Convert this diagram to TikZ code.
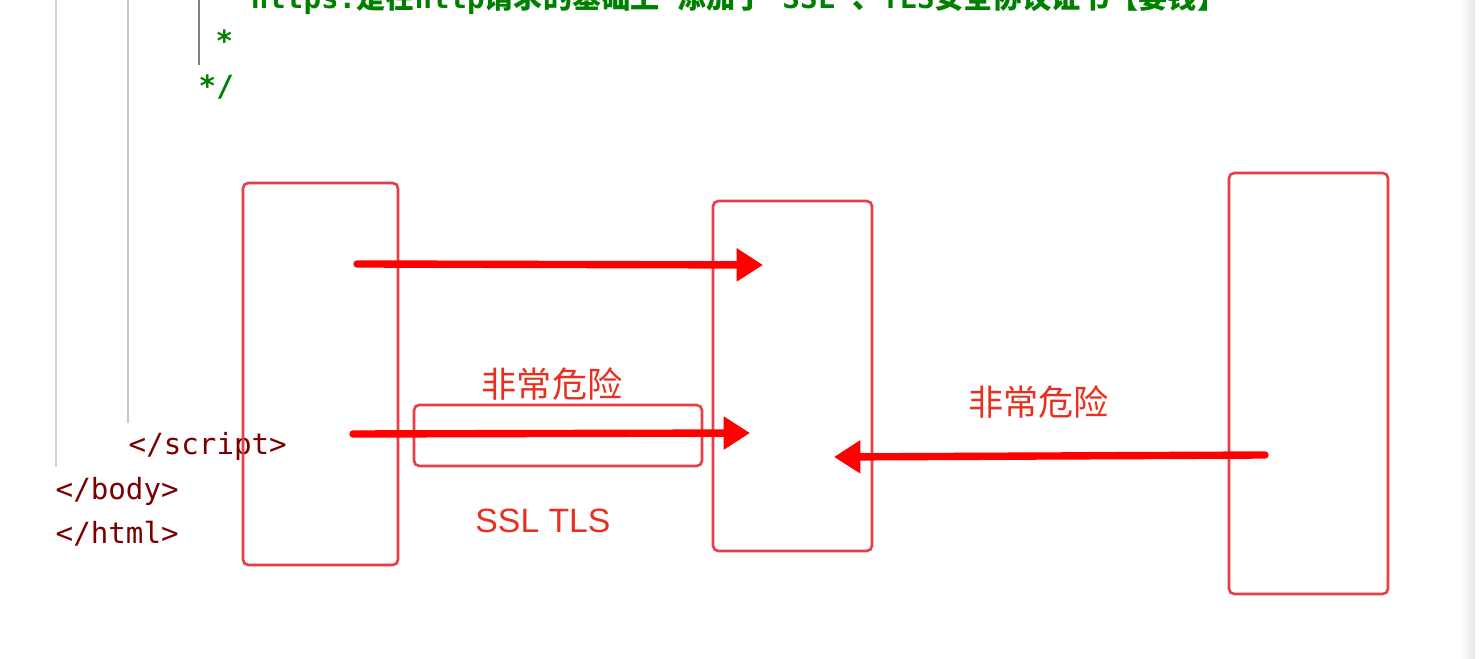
\documentclass[tikz,border=0pt]{standalone}
\usepackage{fontspec}
\usepackage{xcolor}
\usepackage{tikz}
\usetikzlibrary{arrows.meta}
\setmainfont{Liberation Sans}
\newfontfamily\cjk{Noto Sans CJK SC}
\newfontfamily\codefont{DejaVu Sans Mono}
\definecolor{boxred}{RGB}{232,62,72}
\definecolor{textred}{RGB}{232,48,32}
\definecolor{tagred}{RGB}{122,0,0}
\definecolor{cmtgreen}{RGB}{0,128,0}

\begin{document}
\begin{tikzpicture}[redbox/.style={draw=boxred, line width=0.75pt, rounded corners=1.5pt, inner sep=0, minimum width=#1},
  bigarrow/.style={-{Triangle[length=7.5pt, width=9pt]}, red, line width=2.1pt, line cap=round},
  redtext/.style={text=textred, inner sep=0, font=\cjk\fontsize{10}{12}\selectfont},
  codeline/.style={anchor=base west, inner sep=0, font=\codefont\fontsize{8.3}{10}\selectfont},
  comment/.style={codeline, text=cmtgreen, font=\codefont\bfseries\fontsize{8.3}{10}\selectfont}]
\useasboundingbox (0,0) rectangle (14.84,-6.59);
\fill[white] (0,0) rectangle (14.84,-6.59);
%editor guides
\draw[black!18, line width=0.6pt] (0.56,0) -- (0.56,-4.67);
\draw[black!22, line width=0.6pt] (1.28,0) -- (1.28,-4.23);
\draw[black!50, line width=0.6pt] (1.99,0) -- (1.99,-0.65);
\shade[left color=white, right color=black!10] (14.60,0) rectangle (14.75,-6.59);
%code text
\node[comment] (c1) at (2.15,-0.09) {* https:{\cjk 是在}http{\cjk 请求的基础上} {\cjk 添加了} SSL {\cjk 、}TLS{\cjk 安全协议证书【要钱】}};
\node[comment] (c2) at (2.15,-0.52) {*};
\node[comment] (c3) at (1.98,-0.97) {*/};
\node[codeline, text=tagred] (c4) at (1.28,-4.55) {</script>};
\node[codeline, text=tagred] (c5) at (0.55,-5.00) {</body>};
\node[codeline, text=tagred] (c6) at (0.55,-5.44) {</html>};
%boxes
\node[redbox=1.55cm, minimum height=3.82cm] (client) at (3.205,-3.74) {};
\node[redbox=1.59cm, minimum height=3.50cm] (server) at (7.925,-3.76) {};
\node[redbox=1.59cm, minimum height=4.21cm] (thief) at (13.085,-3.835) {};
\node[redbox=2.88cm, minimum height=0.61cm] (ssl) at (5.58,-4.355) {};
%arrows
\coordinate (a1) at (3.57,-2.64);
\coordinate (b1) at (7.63,-2.65);
\coordinate (a2) at (3.53,-4.34);
\coordinate (b2) at (7.50,-4.33);
\coordinate (a3) at (12.65,-4.55);
\coordinate (b3) at (8.34,-4.57);
\draw[bigarrow] (a1) -- (b1);
\draw[bigarrow] (a2) -- (b2);
\draw[bigarrow] (a3) -- (b3);
%labels
\node[redtext] (w1) at (5.52,-3.84) {非常危险};
\node[redtext] (w2) at (10.385,-4.02) {非常危险};
\node[redtext, font=\fontsize{9.6}{11}\selectfont] (t1) at (5.43,-5.21) {SSL TLS};
\end{tikzpicture}
\end{document}
